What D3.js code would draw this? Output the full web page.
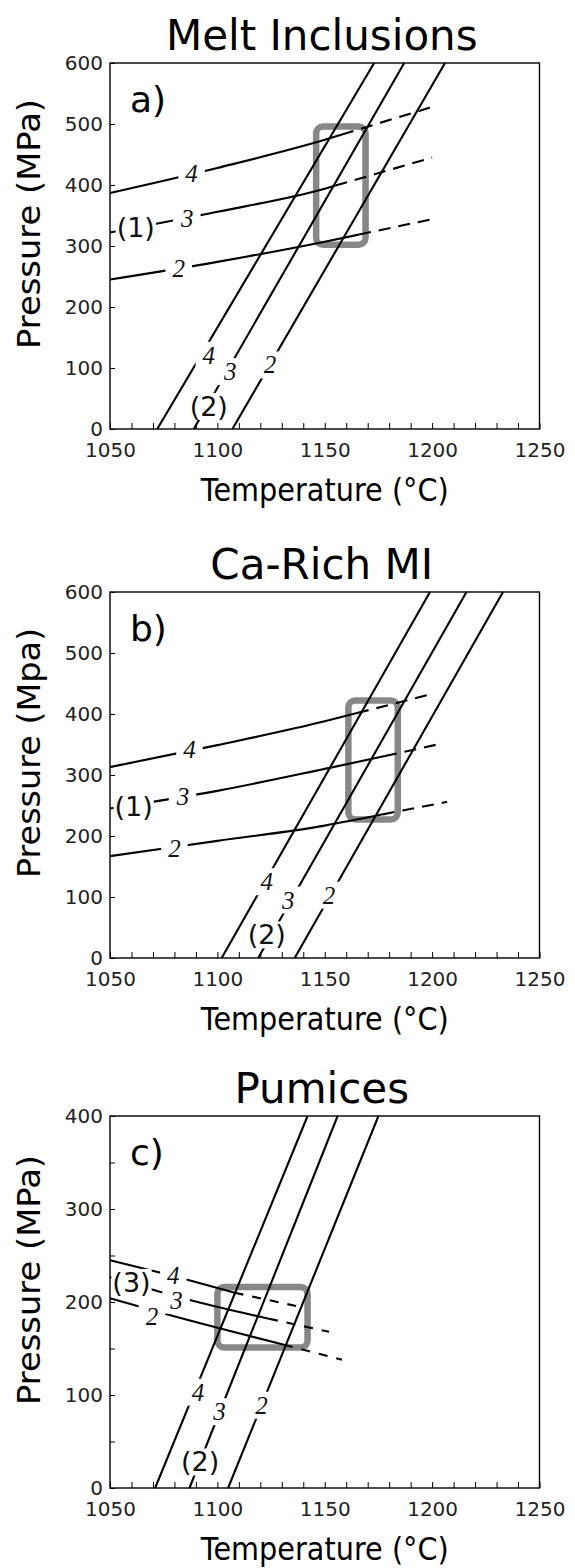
<!DOCTYPE html>
<html>
<head>
<meta charset="utf-8">
<script src="https://cdn.jsdelivr.net/npm/d3@7"></script>
<style>
  body { margin: 0; background: #fff; }
  svg { display: block; }
</style>
</head>
<body>
<div id="chart"></div>
<script>
// ---- data -------------------------------------------------------------
const titles = ["Melt Inclusions", "Ca-Rich MI", "Pumices"];
const panelTags = ["a)", "b)", "c)"];
const yTitles = ["Pressure (MPa)", "Pressure (Mpa)", "Pressure (MPa)"];
const xTitle = "Temperature (\u00B0C)";
const tempDomain = [1050, 1250];
const tempTicks = [1050, 1100, 1150, 1200, 1250];
const pressureMax = [600, 600, 400];
const pressureTicks = [[0, 100, 200, 300, 400, 500, 600], [0, 100, 200, 300, 400, 500, 600], [0, 100, 200, 300, 400]];

// steep isopleths (4, 3, 2) as [T, P]
const aSteep = [[[1072, 0], [1173, 600]], [[1089, 0], [1187, 600]], [[1107, 0], [1206, 600]]];
const bSteep = [[[1102, 0], [1199, 600]], [[1119, 0], [1216, 600]], [[1136, 0], [1233, 600]]];
const cSteep = [[[1071, 0], [1142, 400]], [[1087, 0], [1156, 400]], [[1105, 0], [1175, 400]]];

// shallow isopleths (4, 3, 2): solid part, then dashed part
const aFlatSolid = [
  [[1050, 387], [1100, 428], [1150, 474], [1158, 482.6]],
  [[1050, 322], [1100, 356], [1150, 394], [1155, 399]],
  [[1050, 245], [1100, 274], [1150, 307], [1166, 318.8]]
];
const aFlatDash = [
  [[1158, 482.6], [1200, 528]],
  [[1155, 399], [1200, 445]],
  [[1166, 318.8], [1200, 344]]
];
const bFlatSolid = [
  [[1050, 313], [1100, 349], [1150, 388], [1165, 401.5]],
  [[1050, 245], [1100, 274], [1150, 310], [1178, 331]],
  [[1050, 167], [1100, 192], [1150, 217], [1177, 235.5]]
];
const bFlatDash = [
  [[1165, 401.5], [1200, 433]],
  [[1178, 331], [1205, 352]],
  [[1177, 235.5], [1207, 256]]
];
const cFlatSolid = [
  [[1050, 245], [1086, 224], [1108, 210]],
  [[1050, 227], [1089, 201], [1124, 182]],
  [[1050, 204], [1076, 187], [1131, 154]]
];
const cFlatDash = [
  [[1108, 210], [1140, 194]],
  [[1124, 182], [1152, 168]],
  [[1131, 154], [1158, 138]]
];

// grey boxes: [Tmin, Tmax, Pmin, Pmax]
const aBox = [1146, 1169, 302, 496];
const bBox = [1161, 1184, 227, 422];
const cBox = [1100, 1142, 151, 216];

// line labels: [text, T, P]
const aLabels = [["4", 1088, 419], ["3", 1086, 345], ["2", 1082, 263], ["(1)", 1062, 331],
                 ["4", 1096, 121], ["3", 1106, 94], ["2", 1124.5, 105], ["(2)", 1096, 37]];
const bLabels = [["4", 1087, 341], ["3", 1084, 264], ["2", 1080, 180], ["(1)", 1061, 248],
                 ["4", 1123, 125], ["3", 1133, 95], ["2", 1152, 103], ["(2)", 1123, 38]];
const cLabels = [["4", 1079.5, 229], ["3", 1081, 202], ["2", 1069.5, 184], ["(3)", 1060, 221],
                 ["4", 1091, 103], ["3", 1101, 82], ["2", 1120.5, 89], ["(2)", 1092, 28]];

// ---- layout -----------------------------------------------------------
const width = 575, height = 1568;
const xRange = [110, 539.5];
const panelTop = [63, 592, 1116];
const panelBottom = [429, 958, 1488];
const sans = "DejaVu Sans";

const svg = d3.select('#chart').append('svg')
  .attr('width', width)
  .attr('height', height);

const panels = [
  { steep: aSteep, solid: aFlatSolid, dash: aFlatDash, box: aBox, labels: aLabels, dashArr: "12,8" },
  { steep: bSteep, solid: bFlatSolid, dash: bFlatDash, box: bBox, labels: bLabels, dashArr: "12,8" },
  { steep: cSteep, solid: cFlatSolid, dash: cFlatDash, box: cBox, labels: cLabels, dashArr: "9,9" }
];

panels.forEach((p, i) => {
  const top = panelTop[i], bottom = panelBottom[i];
  const x = d3.scaleLinear(tempDomain, xRange);
  const y = d3.scaleLinear([0, pressureMax[i]], [bottom, top]);
  const g = svg.append('g');

  // grey box
  g.append('rect')
    .attr('x', x(p.box[0]))
    .attr('y', y(p.box[3]))
    .attr('width', x(p.box[1]) - x(p.box[0]))
    .attr('height', y(p.box[2]) - y(p.box[3]))
    .attr('rx', 7)
    .attr('fill', 'none')
    .attr('stroke', '#878787')
    .attr('stroke-width', 6.5);

  const straight = d3.line().x(d => x(d[0])).y(d => y(d[1]));
  const curved = d3.line().x(d => x(d[0])).y(d => y(d[1])).curve(d3.curveMonotoneX);

  g.selectAll('path.steep').data(p.steep).enter().append('path')
    .attr('class', 'steep')
    .attr('d', straight)
    .attr('fill', 'none').attr('stroke', '#000').attr('stroke-width', 2.1);

  g.selectAll('path.solid').data(p.solid).enter().append('path')
    .attr('class', 'solid')
    .attr('d', curved)
    .attr('fill', 'none').attr('stroke', '#000').attr('stroke-width', 2.1);

  g.selectAll('path.dash').data(p.dash).enter().append('path')
    .attr('class', 'dash')
    .attr('d', curved)
    .attr('fill', 'none').attr('stroke', '#000').attr('stroke-width', 2.1)
    .attr('stroke-dasharray', p.dashArr);

  // labels sit on a white patch that breaks the line
  const labs = g.selectAll('g.lab').data(p.labels).enter().append('g').attr('class', 'lab');
  labs.append('rect').attr('fill', '#fff');
  labs.append('text')
    .attr('x', d => x(d[1]))
    .attr('y', d => y(d[2]))
    .attr('text-anchor', 'middle')
    .attr('dominant-baseline', 'central')
    .attr('font-family', d => d[0].length > 1 ? sans : 'Liberation Serif')
    .attr('font-style', d => d[0].length > 1 ? 'normal' : 'italic')
    .attr('font-size', d => d[0].length > 1 ? 27 : 25)
    .attr('fill', '#111')
    .text(d => d[0]);
  labs.each(function(d) {
    const bb = d3.select(this).select('text').node().getBBox();
    const px = d[0].length > 1 ? 1 : 7, py = d[0].length > 1 ? -2 : 0;
    d3.select(this).select('rect')
      .attr('x', bb.x - px).attr('y', bb.y - py)
      .attr('width', bb.width + 2 * px).attr('height', bb.height + 2 * py);
  });

  // x axis: minor ticks every 10, labels at 50
  g.append('g')
    .attr('transform', `translate(0,${bottom})`)
    .call(d3.axisBottom(x).ticks(20).tickSize(-6).tickFormat(''))
    .call(a => a.select('.domain').remove());
  g.append('g')
    .attr('transform', `translate(0,${bottom})`)
    .call(d3.axisBottom(x).tickValues(tempTicks).tickSize(0).tickPadding(14).tickFormat(d3.format('d')))
    .call(a => a.select('.domain').remove())
    .attr('font-family', sans).attr('font-size', 20)
    .selectAll('text').attr('fill', '#222');

  // y axis
  g.append('g')
    .attr('transform', `translate(${xRange[0]},0)`)
    .call(d3.axisLeft(y).ticks(i === 2 ? 8 : 6).tickSize(-5).tickFormat(''))
    .call(a => a.select('.domain').remove());
  g.append('g')
    .attr('transform', `translate(${xRange[0]},0)`)
    .call(d3.axisLeft(y).tickValues(pressureTicks[i]).tickSize(0).tickPadding(7))
    .call(a => a.select('.domain').remove())
    .attr('font-family', sans).attr('font-size', 20)
    .selectAll('text').attr('fill', '#222');

  // frame
  g.append('rect')
    .attr('x', xRange[0]).attr('y', top)
    .attr('width', xRange[1] - xRange[0]).attr('height', bottom - top)
    .attr('fill', 'none').attr('stroke', '#000').attr('stroke-width', 1.4);

  // panel tag
  g.append('text')
    .attr('x', 130).attr('y', top + 49)
    .attr('font-family', sans).attr('font-size', 36)
    .text(panelTags[i]);

  // title
  g.append('text')
    .attr('x', (xRange[0] + xRange[1]) / 2 - 3).attr('y', top - 13)
    .attr('text-anchor', 'middle')
    .attr('font-family', sans).attr('font-size', 42)
    .text(titles[i]);

  // axis titles
  g.append('text')
    .attr('x', (xRange[0] + xRange[1]) / 2).attr('y', bottom + 72)
    .attr('text-anchor', 'middle')
    .attr('font-family', sans).attr('font-size', 32)
    .attr('textLength', 248).attr('lengthAdjust', 'spacingAndGlyphs')
    .text(xTitle);
  g.append('g')
    .attr('transform', `translate(40,${(top + bottom) / 2 - 22})`)
    .append('text')
    .attr('transform', 'rotate(-90)')
    .attr('text-anchor', 'middle')
    .attr('font-family', sans).attr('font-size', 32)
    .attr('textLength', 250).attr('lengthAdjust', 'spacingAndGlyphs')
    .text(yTitles[i]);
});
</script>
</body>
</html>
